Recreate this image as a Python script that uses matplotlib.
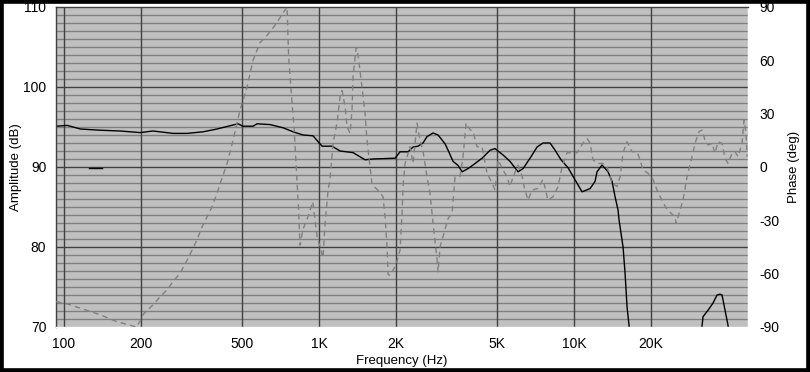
import matplotlib
matplotlib.use("Agg")
import matplotlib.pyplot as plt
from matplotlib.patches import Rectangle
from matplotlib.ticker import FixedLocator, NullFormatter

# ---------------- data ----------------
amp_freq = [93, 103, 116, 138, 166, 199, 223, 268, 304, 351, 398, 460, 481, 503, 551, 571,
            643, 723, 791, 865, 947, 1028, 1125, 1209, 1359, 1515, 1628, 1987, 2078, 2234,
            2337, 2445, 2557, 2651, 2799, 2929, 3120, 3206, 3354, 3508, 3640, 3839, 4017,
            4358, 4685, 4900, 5268, 5610, 6031, 6310, 6722, 7161, 7558, 8054, 8425, 8893,
            9474, 10091, 10750, 11554, 12088, 12307, 12877, 13594, 14093, 14480, 14880,
            15010, 15566, 15849, 16137, 16430, 16600]
amp_db = [95.1, 95.2, 94.75, 94.6, 94.5, 94.3, 94.5, 94.2, 94.2, 94.4, 94.75, 95.25, 95.4,
          95.1, 95.1, 95.4, 95.3, 94.9, 94.4, 94.0, 93.9, 92.6, 92.6, 92.0, 91.8, 90.9, 91.0,
          91.1, 91.9, 91.9, 92.5, 92.6, 93.0, 93.8, 94.25, 94.0, 92.9, 92.1, 90.7, 90.2,
          89.4, 89.8, 90.25, 91.1, 92.1, 92.3, 91.5, 90.7, 89.4, 89.8, 91.1, 92.5, 93.0,
          93.0, 92.1, 90.9, 89.9, 88.4, 86.9, 87.3, 88.2, 89.4, 90.25, 89.4, 88.2, 86.3,
          84.6, 83.4, 80.0, 76.75, 72.5, 70.2, 68.0]

amp2_freq = [31500, 31769, 32056, 33535, 35083, 36373, 37369, 38051, 39097, 40172, 40500]
amp2_db = [68.0, 70.2, 71.3, 72.1, 73.0, 74.0, 74.1, 74.0, 72.1, 70.2, 68.0]

marker_freq = [125, 141]
marker_db = [89.9, 89.9]

phase_freq = [93, 103, 119, 138, 161, 182, 192, 200, 204, 223, 238, 254, 268, 285, 304, 318,
              332, 348, 364, 381, 398, 409, 436, 460, 490, 522, 551, 587, 625, 666, 703, 749,
              760, 780, 798, 820, 830, 842, 865, 905, 945, 982, 1009, 1037, 1056, 1085, 1104,
              1135, 1176, 1209, 1231, 1265, 1288, 1323, 1347, 1359, 1397, 1409, 1435, 1474,
              1515, 1542, 1585, 1614, 1700, 1782, 1815, 1848, 1865, 1900, 2005, 2078, 2116,
              2135, 2175, 2275, 2337, 2423, 2490, 2557, 2651, 2724, 2799, 2902, 2929, 2982,
              3064, 3206, 3324, 3415, 3572, 3670, 3772, 3909, 4017, 4165, 4358, 4558, 4769,
              4900, 5035, 5268, 5461, 5610, 5766, 6031, 6255, 6369, 6601, 6845, 7225, 7558,
              7900, 8271, 8655, 8973, 9387, 10275, 10846, 11246, 11554, 11870, 12419, 12993,
              13472, 14093, 14745, 15150, 15566, 16137, 16885, 17667, 18150, 18647, 19508,
              20411, 21160, 21747, 23160, 24898, 25119, 26758, 27743, 29024, 29820, 30919,
              31769, 32638, 33535, 34768, 35721, 36702, 38051, 39097, 40172, 41651, 42792,
              43966, 45581, 46416, 47266, 47695]
phase_deg = [-75.7, -77, -80, -83, -87, -89, -90, -86, -83, -77.6, -73, -69, -64.3, -59.8,
             -52.3, -46.7, -41, -33.6, -28, -22.3, -14.8, -9.5, 2, 15, 32, 45, 60, 70, 74, 79,
             84, 90, 62, 40, 22, -8, -22, -44, -35, -28, -19.5, -39, -45, -51, -31.5, -13, -7,
             13.5, 24.7, 39.5, 43, 34, 22.5, 19, 32, 50.8, 66.8, 67, 58.5, 45, 30, 15, 0, -10,
             -13, -16.7, -28, -45, -60.5, -61, -55, -46.7, -26, -11, 2, 11.4, 2, 24.7, 15, 9,
             -5.5, -14.8, -31.5, -52, -59, -45, -39, -29, -26, -5.5, -5.3, 5.8, 24.7, 21, 20,
             11.4, 11.4, -3.5, -9, -13, 4, -1.7, -5.5, -11, -5.5, 1, -5, -11, -18.6, -13, -12,
             -7, -18.6, -16.7, -11, 0, 8, 8, 13.5, 16, 13.5, 4, 2, 2, 0, -9, -11, -5.5, 8,
             14.2, 8.6, 8.6, 4, -1.7, -3.5, -7, -13, -16.7, -24, -28, -31.7, -18.6, -5.5, 5.8,
             13.3, 19.9, 20.8, 15, 12.4, 13.3, 7.7, 14.2, 13.3, 4.9, 2, 7.7, 8.6, 5.8, 13.3,
             26.4, 19, 5.8]

freq_ticks = [100, 200, 500, 1000, 2000, 5000, 10000, 20000]
freq_labels = ["100", "200", "500", "1K", "2K", "5K", "10K", "20K"]
amp_ticks = [70, 80, 90, 100, 110]
phase_ticks = [-90, -60, -30, 0, 30, 60, 90]

# ---------------- figure ----------------
plt.rcParams['font.family'] = ['Liberation Sans', 'DejaVu Sans']
plt.rcParams['axes.unicode_minus'] = False
fig = plt.figure(figsize=(8.1, 3.72), dpi=100)
fig.patch.set_facecolor('white')
ax = fig.add_axes([56 / 810, 1 - 327 / 372, (748 - 56) / 810, (327 - 7) / 372])
ax.set_facecolor('#c0c0c0')
ax.set_xscale('log')
ax.set_xlim(93, 48100)
ax.set_ylim(70, 110)

# grid
for y in range(71, 110):
    if y % 10 != 0:
        ax.axhline(y, color='#808080', lw=1.0, zorder=1)
for y in [80, 90, 100]:
    ax.axhline(y, color='#404040', lw=1.0, zorder=1.1)
for f in freq_ticks:
    ax.axvline(f, color='#404040', lw=1.0, zorder=1.1)

ax.xaxis.set_major_locator(FixedLocator(freq_ticks))
ax.xaxis.set_minor_formatter(NullFormatter())
ax.xaxis.set_minor_locator(FixedLocator([]))
ax.set_xticklabels(freq_labels)
ax.set_yticks(amp_ticks)
ax.tick_params(axis='both', length=0, labelsize=10, pad=7)
ax.set_xlabel("Frequency (Hz)", fontsize=9.5, labelpad=3)
ax.set_ylabel("Amplitude (dB)", fontsize=9.5, labelpad=1)

ax.spines['top'].set_color('#404040')
ax.spines['left'].set_color('#404040')
ax.spines['bottom'].set_color('white')
ax.spines['right'].set_color('white')
for s in ax.spines.values():
    s.set_linewidth(1.0)
    s.set_zorder(5)

ax2 = ax.twinx()
ax2.set_ylim(-90, 90)
ax2.set_yticks(phase_ticks)
ax2.tick_params(axis='y', length=0, labelsize=10, pad=8)
ax2.set_ylabel("Phase (deg)", fontsize=9.5, labelpad=6)
for s in ax2.spines.values():
    s.set_visible(False)

ax2.plot(phase_freq, phase_deg, color='#808080', lw=1.0, linestyle=(0, (4, 3)), zorder=3)

ax.plot(amp_freq, amp_db, color='black', lw=1.0, zorder=4)
ax.plot(amp2_freq, amp2_db, color='black', lw=1.0, zorder=4)
ax.plot(marker_freq, marker_db, color='black', lw=1.0, zorder=4)
ax2.patch.set_visible(False)
ax.set_zorder(0)
ax2.set_zorder(1)

fig.patches.append(Rectangle((0, 0), 1, 1, transform=fig.transFigure, fill=False,
                             edgecolor='black', linewidth=5.5, zorder=10))

fig.savefig("out.png", dpi=100)
